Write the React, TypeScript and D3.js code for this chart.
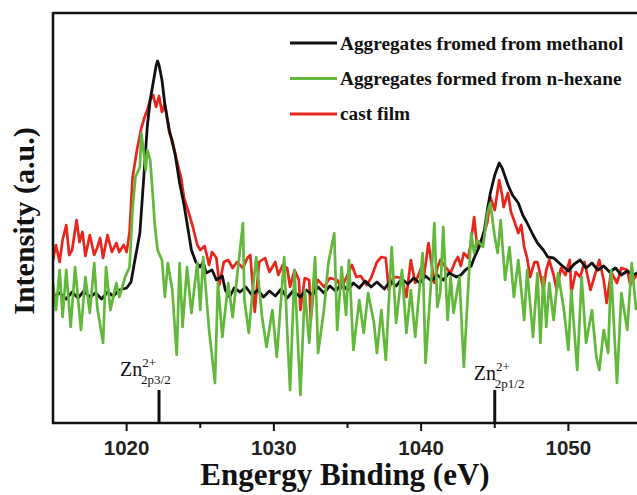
import React from "react";
import * as d3 from "d3";

const W = 637;
const H = 495;

// [binding energy (eV), intensity (a.u.)]
const methanol: [number, number][] = [
  [1015.0, 126], [1015.45, 130], [1015.9, 124], [1016.3, 131], [1016.7, 125], [1017.1, 132],
  [1017.5, 126], [1017.9, 130], [1018.3, 124], [1018.7, 131], [1019.1, 127], [1019.5, 133],
  [1020.0, 135], [1020.3, 141], [1020.5, 158], [1020.9, 190], [1021.2, 253], [1021.4, 296],
  [1021.6, 323], [1021.8, 340], [1022.0, 357], [1022.1, 362], [1022.2, 358], [1022.4, 343],
  [1022.6, 318], [1022.9, 293], [1023.3, 268], [1023.6, 240], [1023.9, 218], [1024.1, 200],
  [1024.4, 173], [1024.7, 161], [1025.0, 156], [1025.2, 161], [1025.4, 150], [1025.8, 153],
  [1026.1, 143], [1026.5, 147], [1026.7, 133], [1027.0, 126], [1027.3, 135], [1027.7, 131],
  [1028.1, 136], [1028.5, 128], [1028.9, 133], [1029.3, 126], [1029.7, 132], [1030.1, 127],
  [1030.5, 134], [1030.9, 125], [1031.3, 132], [1031.8, 126], [1032.2, 133], [1032.6, 128],
  [1033.0, 136], [1033.4, 130], [1033.8, 137], [1034.2, 132], [1034.6, 139], [1035.0, 133],
  [1035.4, 140], [1035.8, 135], [1036.2, 142], [1036.6, 136], [1037.0, 141], [1037.5, 134],
  [1037.9, 142], [1038.3, 137], [1038.7, 144], [1039.1, 139], [1039.5, 145], [1039.9, 140],
  [1040.3, 147], [1040.7, 142], [1041.1, 148], [1041.5, 143], [1041.9, 150], [1042.4, 146],
  [1042.7, 148], [1043.0, 153], [1043.4, 157], [1043.6, 165], [1044.0, 178], [1044.3, 193],
  [1044.5, 213], [1044.7, 230], [1045.0, 248], [1045.3, 260], [1045.5, 255], [1045.9, 238],
  [1046.2, 228], [1046.6, 220], [1046.9, 208], [1047.2, 200], [1047.6, 188], [1047.9, 180],
  [1048.3, 173], [1048.6, 166], [1049.0, 165], [1049.3, 161], [1049.6, 157], [1050.0, 152],
  [1050.4, 159], [1050.8, 163], [1051.2, 155], [1051.6, 160], [1052.0, 153], [1052.4, 157],
  [1052.8, 151], [1053.2, 155], [1053.6, 148], [1054.0, 152], [1054.4, 148], [1054.8, 151],
];

const hexane: [number, number][] = [
  [1015.0, 140], [1015.2, 113], [1015.45, 153], [1015.65, 106], [1015.9, 153], [1016.2, 96],
  [1016.5, 156], [1016.9, 93], [1017.2, 146], [1017.5, 110], [1017.8, 160], [1018.0, 116],
  [1018.4, 80], [1018.6, 156], [1018.9, 113], [1019.3, 140], [1019.5, 126], [1019.9, 146],
  [1020.2, 156], [1020.4, 213], [1020.6, 246], [1020.9, 256], [1021.0, 290], [1021.3, 253],
  [1021.4, 273], [1021.6, 263], [1021.8, 223], [1021.9, 200], [1022.1, 173], [1022.4, 163],
  [1022.6, 126], [1022.8, 160], [1023.1, 133], [1023.4, 68], [1023.6, 160], [1023.8, 96],
  [1024.1, 156], [1024.4, 110], [1024.8, 160], [1025.0, 113], [1025.2, 166], [1025.6, 93],
  [1026.0, 40], [1026.2, 140], [1026.5, 86], [1026.9, 140], [1027.2, 106], [1027.9, 200],
  [1028.0, 123], [1028.3, 90], [1028.5, 123], [1028.8, 166], [1029.2, 106], [1029.5, 76],
  [1029.9, 113], [1030.2, 66], [1030.7, 166], [1030.9, 93], [1031.1, 33], [1031.4, 153],
  [1031.8, 28], [1032.1, 133], [1032.4, 80], [1032.8, 166], [1033.0, 70], [1033.4, 113],
  [1033.7, 160], [1034.1, 190], [1034.3, 93], [1034.6, 156], [1034.9, 108], [1035.1, 163],
  [1035.4, 73], [1035.8, 123], [1036.1, 90], [1036.4, 130], [1036.8, 100], [1037.0, 70],
  [1037.3, 113], [1037.6, 63], [1038.0, 176], [1038.3, 100], [1038.7, 153], [1039.0, 90],
  [1039.3, 133], [1039.6, 86], [1040.1, 170], [1040.3, 60], [1040.7, 146], [1040.9, 200],
  [1041.1, 116], [1041.3, 130], [1041.5, 196], [1041.8, 103], [1042.0, 146], [1042.2, 110],
  [1042.6, 146], [1042.9, 56], [1043.2, 136], [1043.4, 190], [1043.6, 170], [1043.8, 183],
  [1044.2, 176], [1044.5, 210], [1044.7, 220], [1045.0, 186], [1045.2, 170], [1045.4, 203],
  [1045.7, 143], [1046.0, 176], [1046.3, 126], [1046.6, 163], [1047.0, 103], [1047.2, 153],
  [1047.6, 86], [1047.9, 150], [1048.1, 80], [1048.3, 146], [1048.5, 96], [1048.7, 140],
  [1049.0, 103], [1049.3, 150], [1049.7, 113], [1050.0, 73], [1050.2, 133], [1050.6, 53],
  [1050.9, 146], [1051.2, 80], [1051.6, 113], [1051.9, 66], [1052.1, 53], [1052.4, 93],
  [1052.7, 70], [1052.9, 153], [1053.3, 40], [1053.6, 130], [1054.0, 93], [1054.3, 160],
  [1054.6, 113],
];

const castFilm: [number, number][] = [
  [1015.0, 163], [1015.2, 178], [1015.45, 161], [1015.65, 183], [1015.9, 198], [1016.1, 168],
  [1016.3, 173], [1016.6, 203], [1016.8, 181], [1017.0, 191], [1017.2, 167], [1017.5, 188],
  [1017.8, 168], [1018.0, 175], [1018.2, 185], [1018.4, 165], [1018.7, 188], [1019.0, 171],
  [1019.3, 180], [1019.5, 171], [1019.8, 178], [1020.0, 171], [1020.2, 191], [1020.4, 245],
  [1020.7, 273], [1021.0, 295], [1021.2, 305], [1021.4, 313], [1021.6, 323], [1021.8, 328],
  [1022.0, 316], [1022.2, 327], [1022.4, 311], [1022.6, 319], [1022.9, 290], [1023.1, 283],
  [1023.4, 263], [1023.7, 245], [1023.9, 225], [1024.2, 211], [1024.5, 196], [1024.8, 178],
  [1025.0, 173], [1025.3, 177], [1025.6, 158], [1025.8, 171], [1026.1, 165], [1026.3, 138],
  [1026.6, 161], [1026.9, 163], [1027.2, 155], [1027.5, 161], [1027.9, 155], [1028.2, 165],
  [1028.4, 168], [1028.7, 111], [1029.0, 161], [1029.4, 165], [1029.7, 151], [1030.1, 161],
  [1030.3, 148], [1030.6, 158], [1030.9, 155], [1031.1, 136], [1031.4, 153], [1031.7, 143],
  [1031.8, 113], [1032.1, 145], [1032.4, 143], [1032.5, 103], [1032.7, 133], [1033.0, 143],
  [1033.4, 136], [1033.8, 145], [1034.3, 143], [1034.6, 135], [1034.9, 145], [1035.3, 158],
  [1035.6, 146], [1035.9, 147], [1036.3, 138], [1036.6, 145], [1037.0, 161], [1037.3, 166],
  [1037.6, 165], [1037.8, 133], [1038.1, 145], [1038.3, 146], [1038.7, 145], [1039.0, 126],
  [1039.3, 163], [1039.6, 140], [1040.0, 155], [1040.2, 148], [1040.5, 180], [1040.9, 140],
  [1041.1, 155], [1041.3, 163], [1041.7, 155], [1042.0, 150], [1042.3, 161], [1042.5, 166],
  [1042.7, 157], [1042.9, 170], [1043.2, 165], [1043.4, 183], [1043.6, 206], [1043.8, 176],
  [1044.2, 186], [1044.5, 201], [1044.7, 226], [1045.0, 213], [1045.2, 233], [1045.3, 243],
  [1045.5, 228], [1045.6, 216], [1045.9, 230], [1046.1, 211], [1046.3, 203], [1046.6, 190],
  [1046.8, 198], [1047.0, 176], [1047.2, 165], [1047.4, 146], [1047.7, 161], [1047.9, 161],
  [1048.1, 148], [1048.3, 133], [1048.5, 153], [1048.7, 163], [1049.0, 148], [1049.2, 133],
  [1049.5, 155], [1049.8, 148], [1050.1, 163], [1050.2, 130], [1050.5, 151], [1050.8, 146],
  [1051.1, 161], [1051.5, 133], [1051.8, 148], [1052.1, 163], [1052.4, 143], [1052.6, 120],
  [1052.9, 151], [1053.3, 140], [1053.6, 155], [1054.0, 153], [1054.2, 138], [1054.4, 143],
  [1054.8, 151],
];

const legendLabels = [
  "Aggregates fromed from methanol",
  "Aggregates formed from n-hexane",
  "cast film",
];
const seriesColors = ["#111111", "#62b83a", "#e8261c"];
const xTicks = [1020, 1030, 1040, 1050];
const xMinorTicks = [1025, 1035, 1045, 1055];
const peakMarks = [1022.2, 1045.0];
const peakSubs = ["2p3/2", "2p1/2"];

const serif = "'Liberation Serif', 'Times New Roman', serif";
const sans = "'Liberation Sans', Arial, sans-serif";

export default function App() {
  const x = d3.scaleLinear().domain([1015, 1055]).range([53, 642]);
  const y = d3.scaleLinear().domain([0, 410]).range([423, 13]);
  const line = d3
    .line<[number, number]>()
    .x((d) => x(d[0]))
    .y((d) => y(d[1]));

  const series = [methanol, hexane, castFilm];
  // drawing order: red under black, green on top
  const drawOrder = [2, 0, 1];

  return (
    <svg width={W} height={H} style={{ display: "block", position: "absolute", left: 0, top: 0, background: "#fff" }}>
      <defs>
        <clipPath id="plot">
          <rect x={53} y={13} width={W - 53} height={410} />
        </clipPath>
      </defs>

      <g clipPath="url(#plot)">
        {drawOrder.map((i) => (
          <path
            key={i}
            d={line(series[i]) || ""}
            fill="none"
            stroke={seriesColors[i]}
            strokeWidth={i === 0 ? 2.8 : 2.7}
            strokeLinejoin="round"
          />
        ))}
      </g>

      {/* frame */}
      <line x1={53} x2={W} y1={13} y2={13} stroke="#111" strokeWidth={2.5} />
      <line x1={53} x2={53} y1={12} y2={424} stroke="#111" strokeWidth={2.5} />
      <line x1={52} x2={W} y1={423} y2={423} stroke="#111" strokeWidth={2.5} />

      {/* ticks */}
      {xTicks.map((t) => (
        <g key={t}>
          <line x1={x(t)} x2={x(t)} y1={423} y2={431} stroke="#111" strokeWidth={2} />
          <text x={x(t)} y={455} textAnchor="middle" fontFamily={sans} fontWeight="bold" fontSize={20.5} fill="#222">
            {t}
          </text>
        </g>
      ))}
      {xMinorTicks.map((t) => (
        <line key={t} x1={x(t)} x2={x(t)} y1={423} y2={428} stroke="#111" strokeWidth={2} />
      ))}

      {/* peak markers */}
      {peakMarks.map((p, i) => (
        <g key={p}>
          <line x1={x(p)} x2={x(p)} y1={390} y2={423} stroke="#111" strokeWidth={3} />
          <text
            x={i === 0 ? x(p) - 39 : x(p) - 21}
            y={i === 0 ? 376 : 380}
            fontFamily={serif}
            fontSize={20}
            fill="#111"
          >
            Zn
            <tspan dx={0} dy={-9} fontSize={13}>2+</tspan>
            <tspan dx={-15} dy={17} fontSize={13}>{peakSubs[i]}</tspan>
          </text>
        </g>
      ))}

      {/* legend */}
      {legendLabels.map((l, i) => (
        <g key={l}>
          <line x1={290} x2={337} y1={43 + i * 35.5} y2={43 + i * 35.5} stroke={seriesColors[i]} strokeWidth={3} />
          <text x={340} y={50 + i * 35} fontFamily={serif} fontWeight="bold" fontSize={19.3} fill="#111">
            {l}
          </text>
        </g>
      ))}

      {/* axis titles */}
      <text x={345} y={485} textAnchor="middle" fontFamily={serif} fontWeight="bold" fontSize={31} fill="#111">
        Engergy Binding (eV)
      </text>
      <text
        transform="translate(34,221) rotate(-90)"
        textAnchor="middle"
        fontFamily={serif}
        fontWeight="bold"
        fontSize={30}
        fill="#111"
      >
        Intensity (a.u.)
      </text>
    </svg>
  );
}
